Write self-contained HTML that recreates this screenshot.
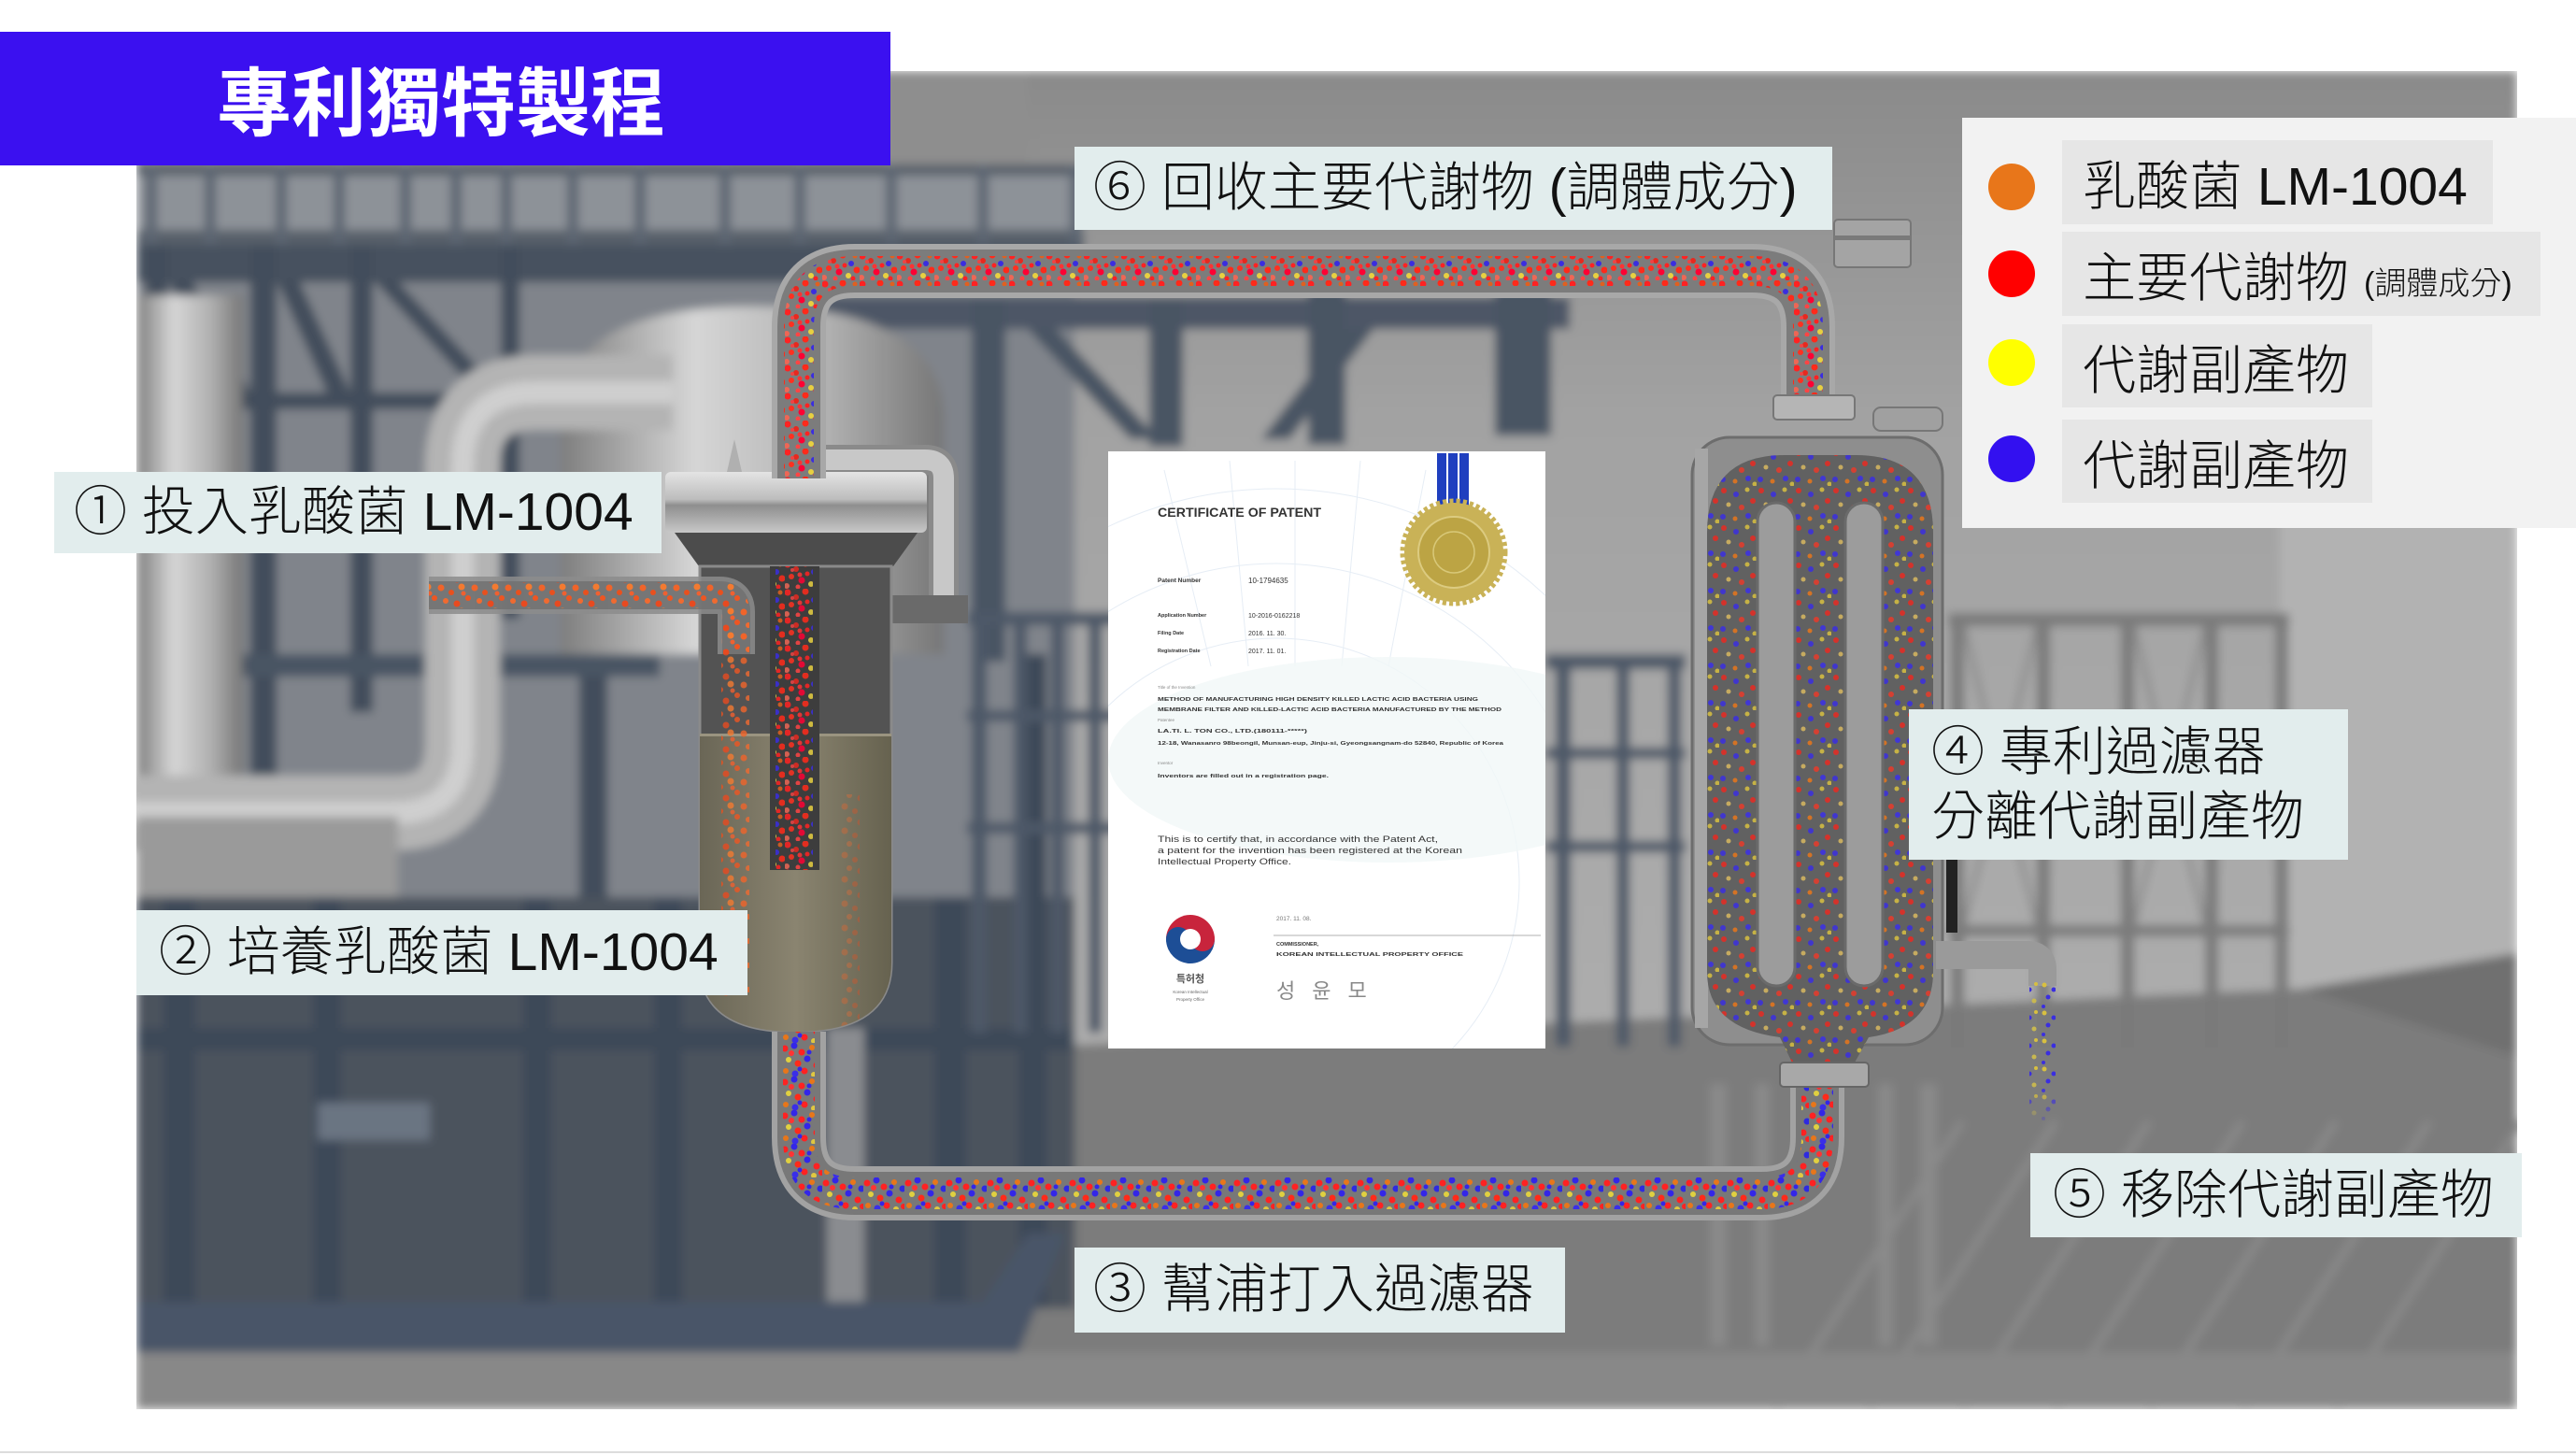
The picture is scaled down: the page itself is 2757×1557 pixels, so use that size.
<!DOCTYPE html>
<html><head><meta charset="utf-8">
<style>
html,body{margin:0;padding:0;background:#fff;}
body{width:2757px;height:1557px;position:relative;overflow:hidden;font-family:"Liberation Sans","Noto Sans CJK TC",sans-serif;}
svg.bg{position:absolute;left:0;top:0;}
.lbl{position:absolute;background:#e2eded;color:#111;font-size:57px;font-weight:300;line-height:1;box-sizing:border-box;white-space:nowrap;display:flex;align-items:center;font-family:"Liberation Sans","Noto Sans CJK TC",sans-serif;}
.title{position:absolute;left:0;top:34px;width:953px;height:143px;background:#3b10f0;color:#fff;font-family:"Noto Sans CJK TC","Liberation Sans",sans-serif;font-weight:700;font-size:80px;line-height:143px;padding-left:232px;box-sizing:border-box;white-space:nowrap;}
.legend{position:absolute;left:2100px;top:126px;width:657px;height:439px;background:#f2f2f2;}
.dot{position:absolute;width:50px;height:50px;border-radius:50%;left:28px;}
.item{position:absolute;left:107px;height:90px;background:#e6e6e6;box-sizing:border-box;padding-left:22px;display:flex;align-items:center;font-size:57px;font-weight:300;color:#111;white-space:nowrap;font-family:"Liberation Sans","Noto Sans CJK TC",sans-serif;}
</style></head>
<body>
<svg class="bg" width="2757" height="1557" viewBox="0 0 2757 1557">
<defs>
 <clipPath id="ph"><rect x="146" y="76" width="2548" height="1432"/></clipPath>
 <clipPath id="certc"><rect x="0" y="0" width="468" height="639"/></clipPath>
 <filter id="bl" x="-5%" y="-5%" width="110%" height="110%"><feGaussianBlur stdDeviation="5"/></filter>
 <linearGradient id="silverV" x1="0" x2="1" y1="0" y2="0">
  <stop offset="0" stop-color="#7e7e7e"/><stop offset="0.35" stop-color="#d6d6d6"/><stop offset="0.7" stop-color="#b0b0b0"/><stop offset="1" stop-color="#767676"/>
 </linearGradient>
 <linearGradient id="silverH" x1="0" x2="0" y1="0" y2="1">
  <stop offset="0" stop-color="#e4e4e4"/><stop offset="0.45" stop-color="#bdbdbd"/><stop offset="0.55" stop-color="#8e8e8e"/><stop offset="1" stop-color="#c8c8c8"/>
 </linearGradient>
 <linearGradient id="wall" x1="0" x2="0" y1="0" y2="1">
  <stop offset="0" stop-color="#8a8a8a"/><stop offset="0.35" stop-color="#a2a2a2"/><stop offset="1" stop-color="#adadad"/>
 </linearGradient>
 <linearGradient id="liq" x1="0" x2="1" y1="0" y2="0">
  <stop offset="0" stop-color="#6a6656"/><stop offset="0.5" stop-color="#8a8470"/><stop offset="1" stop-color="#66624f"/>
 </linearGradient>
 <linearGradient id="fade" x1="0" x2="0" y1="0" y2="1">
  <stop offset="0" stop-color="#fff"/><stop offset="0.7" stop-color="#fff"/><stop offset="1" stop-color="#000"/>
 </linearGradient>
 <mask id="spoutMask"><rect x="2160" y="1040" width="60" height="170" fill="url(#fade)"/></mask>
 <pattern id="pRed" width="40" height="30" patternUnits="userSpaceOnUse">
  <circle cx="3" cy="4" r="3.5" fill="#f22"/><circle cx="12" cy="9" r="3" fill="#e8281e"/>
  <circle cx="22" cy="3" r="3.5" fill="#ff2a1a"/><circle cx="31" cy="12" r="3" fill="#3a2de0"/>
  <circle cx="7" cy="17" r="3" fill="#ff3020"/><circle cx="18" cy="21" r="3.5" fill="#f03"/>
  <circle cx="28" cy="25" r="3" fill="#e8d040"/><circle cx="37" cy="19" r="3.5" fill="#ff2a1a"/>
  <circle cx="2" cy="27" r="3" fill="#e65"/><circle cx="14" cy="28" r="2.5" fill="#f44"/>
  <circle cx="35" cy="4" r="2.5" fill="#e06020"/><circle cx="24" cy="14" r="2.5" fill="#f22"/>
  <circle cx="16" cy="15" r="2.5" fill="#f33"/><circle cx="33" cy="28" r="2.5" fill="#f22"/>
  <circle cx="8" cy="10" r="2" fill="#e44"/>
 </pattern>
 <pattern id="pMix" width="44" height="36" patternUnits="userSpaceOnUse">
  <circle cx="4" cy="6" r="3.5" fill="#f22"/><circle cx="14" cy="3" r="3.5" fill="#3326e8"/>
  <circle cx="22" cy="10" r="3.5" fill="#f22"/><circle cx="33" cy="5" r="3" fill="#e8761a"/>
  <circle cx="42" cy="12" r="3.5" fill="#2e2ae0"/><circle cx="8" cy="18" r="3" fill="#e0d040"/>
  <circle cx="18" cy="22" r="3.5" fill="#ff2a1a"/><circle cx="28" cy="17" r="3.5" fill="#3326e8"/>
  <circle cx="38" cy="24" r="3.5" fill="#f22"/><circle cx="5" cy="30" r="3" fill="#e8761a"/>
  <circle cx="15" cy="33" r="3.5" fill="#3a2ee8"/><circle cx="25" cy="30" r="3.5" fill="#f22"/>
  <circle cx="35" cy="34" r="3" fill="#e0c840"/><circle cx="11" cy="11" r="3" fill="#f33"/>
  <circle cx="43" cy="31" r="3" fill="#f22"/><circle cx="30" cy="10" r="2.5" fill="#3326e8"/>
  <circle cx="20" cy="28" r="2.5" fill="#3326e8"/>
 </pattern>
 <pattern id="pOr" width="36" height="26" patternUnits="userSpaceOnUse">
  <circle cx="4" cy="5" r="3.5" fill="#f0642a"/><circle cx="15" cy="10" r="3" fill="#e8501e"/>
  <circle cx="26" cy="4" r="3.5" fill="#f47a30"/><circle cx="33" cy="16" r="3" fill="#ee5522"/>
  <circle cx="9" cy="19" r="3" fill="#f06a30"/><circle cx="21" cy="22" r="3.5" fill="#e84a20"/>
  <circle cx="28" cy="11" r="2.5" fill="#f06030"/>
 </pattern>
 <pattern id="pFil" width="40" height="40" patternUnits="userSpaceOnUse">
  <circle cx="5" cy="5" r="3" fill="#e82a22"/><circle cx="18" cy="9" r="3" fill="#3a2ee0"/>
  <circle cx="30" cy="4" r="2.5" fill="#d8c040"/><circle cx="36" cy="16" r="3" fill="#e82a22"/>
  <circle cx="10" cy="20" r="2.5" fill="#d8b860"/><circle cx="24" cy="23" r="3" fill="#e83a2a"/>
  <circle cx="4" cy="33" r="3" fill="#3a2ee0"/><circle cx="17" cy="35" r="2.5" fill="#e8761a"/>
  <circle cx="31" cy="32" r="3" fill="#3a30e8"/><circle cx="38" cy="38" r="2.5" fill="#d8c040"/>
 </pattern>
 <pattern id="pSp" width="26" height="30" patternUnits="userSpaceOnUse">
  <circle cx="4" cy="4" r="2.5" fill="#d8c040"/><circle cx="14" cy="9" r="2.5" fill="#3a2ee0"/>
  <circle cx="21" cy="3" r="2" fill="#d8c040"/><circle cx="8" cy="17" r="2.5" fill="#3a2ee0"/>
  <circle cx="19" cy="21" r="2.5" fill="#c8b850"/><circle cx="3" cy="27" r="2" fill="#3a2ee0"/>
 </pattern>
</defs>

<rect x="0" y="0" width="2757" height="1557" fill="#fff"/>

<g clip-path="url(#ph)">
 <g filter="url(#bl)">
  <rect x="146" y="76" width="2548" height="1432" fill="#8e8e8e"/>
  <rect x="1100" y="76" width="1594" height="1060" fill="url(#wall)"/>
  <rect x="2440" y="400" width="254" height="660" fill="#b2b2b2"/>
  <polygon points="2465,1058 2694,1020 2694,1200" fill="#6f6f6f"/>
  <!-- left back -->
  <rect x="146" y="260" width="1004" height="1150" fill="#80848b"/>
  <!-- floor -->
  <polygon points="1000,1125 2465,1058 2694,1130 2694,1508 1000,1508" fill="#7b7b7b"/>
  <g stroke="#8a8a8a" stroke-width="8">
   <line x1="1900" y1="1508" x2="2100" y2="1200"/><line x1="2000" y1="1508" x2="2200" y2="1200"/>
   <line x1="2100" y1="1508" x2="2300" y2="1200"/><line x1="2200" y1="1508" x2="2400" y2="1200"/>
   <line x1="2300" y1="1508" x2="2500" y2="1200"/><line x1="2400" y1="1508" x2="2600" y2="1200"/>
   <line x1="2500" y1="1508" x2="2700" y2="1200"/>
  </g>
  <rect x="146" y="1447" width="2548" height="61" fill="#888"/>
  <!-- top-left railing -->
  <rect x="146" y="176" width="1014" height="86" fill="#8d9298"/>
  <rect x="146" y="176" width="1014" height="12" fill="#58606b"/>
  <rect x="146" y="246" width="1014" height="16" fill="#58606b"/>
  <g fill="#5d6672">
   <rect x="156" y="176" width="12" height="86"/><rect x="219" y="176" width="12" height="86"/>
   <rect x="295" y="176" width="12" height="86"/><rect x="357" y="176" width="12" height="86"/>
   <rect x="428" y="176" width="12" height="86"/><rect x="482" y="176" width="12" height="86"/>
   <rect x="536" y="176" width="12" height="86"/><rect x="607" y="176" width="12" height="86"/>
   <rect x="679" y="176" width="12" height="86"/><rect x="770" y="176" width="12" height="86"/>
   <rect x="850" y="176" width="12" height="86"/><rect x="948" y="176" width="12" height="86"/>
   <rect x="1046" y="176" width="12" height="86"/><rect x="1145" y="176" width="12" height="86"/>
  </g>
  <rect x="146" y="262" width="1014" height="40" fill="#47515f"/>
  <!-- upper-left posts & braces -->
  <g fill="#434d5c">
   <rect x="156" y="262" width="24" height="640"/><rect x="268" y="262" width="28" height="640"/>
   <rect x="375" y="262" width="24" height="500"/><rect x="536" y="262" width="20" height="400"/>
   <polygon points="180,300 205,300 268,420 243,420"/><polygon points="296,300 320,300 375,420 350,420"/>
   <polygon points="400,300 425,300 536,420 510,420"/>
   <rect x="146" y="420" width="420" height="18"/>
  </g>
  <!-- middle navy structure -->
  <rect x="880" y="318" width="800" height="34" fill="#4d5766"/>
  <rect x="1040" y="318" width="36" height="390" fill="#4a5464"/>
  <rect x="1230" y="318" width="36" height="160" fill="#4a5464"/>
  <rect x="1400" y="306" width="40" height="170" fill="#4a5464"/>
  <rect x="1600" y="306" width="60" height="160" fill="#4a5464"/>
  <polygon points="1100,352 1130,352 1240,470 1210,470" fill="#4a5464"/>
  <polygon points="1440,352 1470,352 1380,470 1350,470" fill="#4a5464"/>
  <!-- left frames -->
  <rect x="620" y="650" width="30" height="760" fill="#434d5c"/>
  <rect x="146" y="700" width="560" height="24" fill="#4a5464"/>
  <!-- silver tanks -->
  <rect x="146" y="316" width="114" height="590" fill="url(#silverV)"/>
  <path d="M600 700 L600 450 Q600 328 805 328 Q1010 328 1010 450 L1010 700 Z" fill="url(#silverV)"/>
  <path d="M140 870 L420 870 Q495 870 495 795 L495 500 Q495 420 575 420 L720 420" fill="none" stroke="#b4b4b4" stroke-width="80"/>
  <path d="M140 870 L420 870 Q495 870 495 795 L495 500 Q495 420 575 420 L720 420" fill="none" stroke="#cfcfcf" stroke-width="24"/>
  <rect x="146" y="874" width="280" height="86" fill="#9a9a9a"/>
  <!-- lower left dark -->
  <rect x="146" y="960" width="1004" height="440" fill="#4c525d"/>
  <g fill="#3e4858">
   <rect x="175" y="960" width="34" height="440"/><rect x="335" y="960" width="30" height="440"/>
   <rect x="560" y="960" width="30" height="440"/><rect x="700" y="960" width="30" height="440"/>
   <rect x="1000" y="960" width="34" height="440"/><rect x="1090" y="700" width="30" height="700"/>
   <rect x="146" y="1100" width="1004" height="24" />
  </g>
  <rect x="340" y="1180" width="120" height="40" fill="#6a7482"/>
  <rect x="885" y="1100" width="40" height="300" fill="#8a8c90"/>
  <rect x="146" y="1393" width="906" height="54" fill="#4a5568"/>
  <polygon points="1052,1393 1100,1320 1140,1320 1090,1447 1052,1447" fill="#4a5568"/>
  <!-- middle railing behind cert -->
  <g fill="#4e5868">
   <rect x="1040" y="655" width="16" height="450"/><rect x="1085" y="655" width="14" height="450"/>
   <rect x="1125" y="655" width="14" height="450"/><rect x="1165" y="655" width="14" height="450"/>
   <rect x="1035" y="655" width="160" height="14"/><rect x="1035" y="760" width="160" height="12"/>
   <rect x="1035" y="880" width="160" height="12"/>
   <rect x="1665" y="700" width="16" height="420"/><rect x="1730" y="700" width="14" height="420"/>
   <rect x="1785" y="700" width="14" height="420"/><rect x="1654" y="700" width="150" height="16"/>
   <rect x="1654" y="800" width="150" height="12"/><rect x="1654" y="900" width="150" height="12"/>
  </g>
  <!-- right scaffolding -->
  <g fill="#7a7a7a">
   <rect x="2088" y="656" width="14" height="465"/><rect x="2180" y="656" width="14" height="465"/>
   <rect x="2270" y="656" width="14" height="465"/><rect x="2360" y="656" width="14" height="465"/>
   <rect x="2435" y="656" width="14" height="465"/>
   <rect x="2085" y="656" width="365" height="14"/><rect x="2085" y="990" width="365" height="12"/>
  </g>
  <g stroke="#8a8a8a" stroke-width="5">
   <line x1="2102" y1="670" x2="2180" y2="990"/><line x1="2180" y1="670" x2="2102" y2="990"/>
   <line x1="2284" y1="670" x2="2360" y2="990"/><line x1="2360" y1="670" x2="2284" y2="990"/>
  </g>
  <!-- filter legs -->
  <g fill="#8a8a8a">
   <rect x="1830" y="1160" width="18" height="280"/><rect x="1878" y="1160" width="16" height="280"/>
   <rect x="2010" y="1160" width="16" height="280"/><rect x="2055" y="1160" width="18" height="280"/>
  </g>
 </g>

 <!-- ===== Culture tank ===== -->
 <path d="M860 492 L990 492 Q1010 492 1010 512 L1010 645" fill="none" stroke="#8a8a8a" stroke-width="32"/>
 <path d="M860 492 L990 492 Q1010 492 1010 512 L1010 645" fill="none" stroke="#c8c8c8" stroke-width="22"/>
 <rect x="940" y="637" width="96" height="30" fill="#6a6a6a"/>
 <polygon points="778,505 786,470 794,505" fill="#b0b0b0"/>
 <rect x="712" y="505" width="280" height="65" rx="6" fill="url(#silverH)"/>
 <polygon points="722,570 982,570 956,606 748,606" fill="#4c4c4c"/>
 <path d="M749 606 L954 606 L954 1030 Q954 1104 851 1104 Q749 1104 749 1030 Z" fill="#535353" stroke="#8a8a8a" stroke-width="3"/>
 <clipPath id="bodyc"><path d="M749 606 L954 606 L954 1030 Q954 1104 851 1104 Q749 1104 749 1030 Z"/></clipPath>
 <g clip-path="url(#bodyc)">
  <rect x="749" y="785" width="205" height="330" fill="url(#liq)"/>
  <rect x="749" y="785" width="205" height="3" fill="#9a9480"/>
  <rect x="824" y="606" width="53" height="325" fill="#3d3d3d"/>
  <rect x="830" y="606" width="40" height="325" fill="url(#pRed)" opacity="0.85"/>
  <rect x="772" y="656" width="30" height="410" fill="url(#pOr)" opacity="0.8"/>
  <rect x="900" y="850" width="20" height="250" fill="url(#pOr)" opacity="0.35"/>
 </g>

 <!-- feed pipe -->
 <path d="M459 637 L770 637 Q788 637 788 655 L788 700" fill="none" stroke="#8c8c8c" stroke-width="40" opacity="0.85"/>
 <path d="M459 637 L770 637 Q788 637 788 655 L788 700" fill="none" stroke="#6f6f6f" stroke-width="30" opacity="0.8"/>
 <path d="M459 637 L770 637 Q788 637 788 655 L788 700" fill="none" stroke="url(#pOr)" stroke-width="28"/>

 <!-- ===== Loop pipes ===== -->
 <g fill="none">
  <path d="M855 512 L855 350 Q855 290 915 290 L1875 290 Q1935 290 1935 350 L1935 430" stroke="#a8a8a8" stroke-width="58"/>
  <path d="M855 512 L855 350 Q855 290 915 290 L1875 290 Q1935 290 1935 350 L1935 430" stroke="#7c7c7c" stroke-width="46"/>
  <path d="M855 512 L855 350 Q855 290 915 290 L1875 290 Q1935 290 1935 350 L1935 430" stroke="url(#pRed)" stroke-width="32"/>
  <path d="M855 1104 L855 1217 Q855 1277 915 1277 L1885 1277 Q1945 1277 1945 1217 L1945 1160" stroke="#a2a2a2" stroke-width="58"/>
  <path d="M855 1104 L855 1217 Q855 1277 915 1277 L1885 1277 Q1945 1277 1945 1217 L1945 1160" stroke="#787878" stroke-width="46"/>
  <path d="M855 1104 L855 1217 Q855 1277 915 1277 L1885 1277 Q1945 1277 1945 1217 L1945 1160" stroke="url(#pMix)" stroke-width="34"/>
 </g>
 <rect x="1963" y="235" width="82" height="51" rx="4" fill="#a4a4a4" stroke="#777" stroke-width="2"/>
 <rect x="1963" y="252" width="82" height="5" fill="#7a7a7a"/>

 <!-- ===== Filter ===== -->
 <rect x="1811" y="468" width="268" height="650" rx="40" fill="#8e8e8e" stroke="#6d6d6d" stroke-width="3"/>
 <rect x="1814" y="480" width="14" height="620" fill="#a6a6a6"/>
 <path d="M1827 570 Q1827 487 1910 487 L1986 487 Q2069 487 2069 570 L2069 1040 Q2069 1100 2000 1110 L1985 1137 L1918 1137 L1905 1110 Q1827 1100 1827 1040 Z" fill="#616161"/>
 <path d="M1827 570 Q1827 487 1910 487 L1986 487 Q2069 487 2069 570 L2069 1040 Q2069 1100 2000 1110 L1985 1137 L1918 1137 L1905 1110 Q1827 1100 1827 1040 Z" fill="url(#pFil)" opacity="0.85"/>
 <rect x="1881" y="538" width="40" height="517" rx="20" fill="#9c9c9c" stroke="#6a6a6a" stroke-width="3"/>
 <rect x="1975" y="538" width="40" height="517" rx="20" fill="#9c9c9c" stroke="#6a6a6a" stroke-width="3"/>
 <rect x="1898" y="423" width="87" height="26" rx="4" fill="#b5b5b5" stroke="#777" stroke-width="2"/>
 <rect x="2005" y="436" width="74" height="25" rx="8" fill="#a0a0a0" stroke="#777" stroke-width="2"/>
 <rect x="1905" y="1137" width="95" height="26" rx="4" fill="#a8a8a8" stroke="#666" stroke-width="2"/>
 <rect x="2083" y="918" width="12" height="80" fill="#222"/>
 <path d="M2072 1022 L2170 1022 Q2186 1022 2186 1038 L2186 1055" fill="none" stroke="#9a9a9a" stroke-width="30"/>
 <rect x="2172" y="1050" width="28" height="150" fill="url(#pSp)" mask="url(#spoutMask)"/>
</g>

<!-- ===== Certificate ===== -->
<g transform="translate(1186,483)">
 <rect x="0" y="0" width="468" height="639" fill="#ffffff"/>
 <g clip-path="url(#certc)">
  <g fill="none" stroke="#e6edf5" stroke-width="1">
   <circle cx="180" cy="460" r="420"/><circle cx="180" cy="460" r="340"/><circle cx="180" cy="460" r="260"/>
   <line x1="60" y1="20" x2="110" y2="230"/><line x1="130" y1="10" x2="150" y2="230"/><line x1="200" y1="10" x2="200" y2="230"/>
   <line x1="270" y1="10" x2="250" y2="230"/><line x1="340" y1="20" x2="300" y2="230"/>
  </g>
  <ellipse cx="300" cy="330" rx="300" ry="110" fill="#f1f8f8" opacity="0.8"/>
 </g>
 <rect x="352" y="2" width="10" height="66" fill="#1f3fbf"/>
 <rect x="364" y="2" width="10" height="66" fill="#1f3fbf"/>
 <rect x="376" y="2" width="10" height="66" fill="#1f3fbf"/>
 <circle cx="370" cy="108" r="53" fill="#c9b257" stroke="#c9b257" stroke-width="9" stroke-dasharray="4 3"/>
 <circle cx="370" cy="108" r="38" fill="#bca444" stroke="#dccb80" stroke-width="2"/>
 <circle cx="370" cy="108" r="22" fill="none" stroke="#d8c878" stroke-width="1.5"/>
 <g font-family="Liberation Sans, sans-serif" fill="#333">
  <text x="53" y="70" font-size="13.5" font-weight="bold" textLength="175" lengthAdjust="spacingAndGlyphs">CERTIFICATE OF PATENT</text>
  <text x="53" y="140" font-size="6.5" font-weight="bold">Patent Number</text>
  <text x="150" y="141" font-size="8">10-1794635</text>
  <text x="53" y="177" font-size="5.5" font-weight="bold">Application Number</text>
  <text x="150" y="178" font-size="7">10-2016-0162218</text>
  <text x="53" y="196" font-size="5.5" font-weight="bold">Filing Date</text>
  <text x="150" y="197" font-size="7">2016. 11. 30.</text>
  <text x="53" y="215" font-size="5.5" font-weight="bold">Registration Date</text>
  <text x="150" y="216" font-size="7">2017. 11. 01.</text>
  <text x="53" y="254" font-size="4.5" fill="#888">Title of the Invention</text>
  <text x="53" y="267" font-size="5.5" font-weight="bold" textLength="343" lengthAdjust="spacingAndGlyphs">METHOD OF MANUFACTURING HIGH DENSITY KILLED LACTIC ACID BACTERIA USING</text>
  <text x="53" y="278" font-size="5.5" font-weight="bold" textLength="368" lengthAdjust="spacingAndGlyphs">MEMBRANE FILTER AND KILLED-LACTIC ACID BACTERIA MANUFACTURED BY THE METHOD</text>
  <text x="53" y="289" font-size="4.5" fill="#888">Patentee</text>
  <text x="53" y="301" font-size="5.5" font-weight="bold" textLength="160" lengthAdjust="spacingAndGlyphs">LA.TI. L. TON CO., LTD.(180111-*****)</text>
  <text x="53" y="314" font-size="5.5" font-weight="bold" textLength="370" lengthAdjust="spacingAndGlyphs">12-18, Wanasanro 98beongil, Munsan-eup, Jinju-si, Gyeongsangnam-do 52840, Republic of Korea</text>
  <text x="53" y="335" font-size="4.5" fill="#888">Inventor</text>
  <text x="53" y="349" font-size="5.5" font-weight="bold" textLength="183" lengthAdjust="spacingAndGlyphs">Inventors are filled out in a registration page.</text>
  <text x="53" y="418" font-size="9.5" textLength="300" lengthAdjust="spacingAndGlyphs">This is to certify that, in accordance with the Patent Act,</text>
  <text x="53" y="430" font-size="9.5" textLength="326" lengthAdjust="spacingAndGlyphs">a patent for the invention has been registered at the Korean</text>
  <text x="53" y="442" font-size="9.5" textLength="143" lengthAdjust="spacingAndGlyphs">Intellectual Property Office.</text>
  <text x="180" y="502" font-size="6.5" fill="#777">2017. 11. 08.</text>
  <text x="180" y="529" font-size="5.5" font-weight="bold">COMMISSIONER,</text>
  <text x="180" y="540" font-size="5.5" font-weight="bold" textLength="200" lengthAdjust="spacingAndGlyphs">KOREAN INTELLECTUAL PROPERTY OFFICE</text>
  <text x="88" y="580" font-size="4.5" text-anchor="middle" fill="#666">Korean Intellectual</text>
  <text x="88" y="588" font-size="4.5" text-anchor="middle" fill="#666">Property Office</text>
 </g>
 <line x1="177" y1="518" x2="463" y2="518" stroke="#999" stroke-width="0.8"/>
 <path d="M62 522 A26 26 0 0 1 114 522 Z" fill="#c8243c"/>
 <path d="M62 522 A26 26 0 0 0 114 522 Z" fill="#1d4e96"/>
 <circle cx="101" cy="522" r="13" fill="#c8243c"/>
 <circle cx="75" cy="522" r="13" fill="#1d4e96"/>
 <circle cx="88" cy="522" r="11" fill="#fff"/>
 <text x="88" y="568" font-size="11" font-weight="bold" text-anchor="middle" fill="#555" font-family="Liberation Sans, Noto Sans CJK KR, sans-serif">특허청</text>
 <text x="180" y="585" font-size="22" fill="#888" letter-spacing="18" font-family="Liberation Sans, Noto Sans CJK KR, sans-serif">성윤모</text>
</g>

<rect x="0" y="1553" width="2757" height="2" fill="#dcdcdc"/>
</svg>

<div class="title">專利獨特製程</div>

<div class="lbl" style="left:58px;top:505px;width:650px;height:87px;padding-left:21px;">① 投入乳酸菌 LM-1004</div>
<div class="lbl" style="left:1150px;top:157px;width:811px;height:89px;padding-left:20px;">⑥ 回收主要代謝物 (調體成分)</div>
<div class="lbl" style="left:146px;top:974px;width:654px;height:91px;padding-left:24px;">② 培養乳酸菌 LM-1004</div>
<div class="lbl" style="left:1150px;top:1335px;width:525px;height:91px;padding-left:20px;">③ 幫浦打入過濾器</div>
<div class="lbl" style="left:2043px;top:759px;width:470px;height:161px;padding-left:24px;line-height:69px;"><div>④ 專利過濾器<br>分離代謝副產物</div></div>
<div class="lbl" style="left:2173px;top:1234px;width:526px;height:90px;padding-left:24px;">⑤ 移除代謝副產物</div>

<div class="legend">
 <div class="dot" style="top:49px;background:#e8761a;"></div>
 <div class="dot" style="top:142px;background:#ff0000;"></div>
 <div class="dot" style="top:237px;background:#ffff00;"></div>
 <div class="dot" style="top:340px;background:#3310f0;"></div>
 <div class="item" style="top:24px;width:461px;">乳酸菌 LM-1004</div>
 <div class="item" style="top:122px;width:512px;">主要代謝物<span style="font-size:34px;margin-left:16px;margin-top:14px;">(調體成分)</span></div>
 <div class="item" style="top:221px;width:332px;height:89px;">代謝副產物</div>
 <div class="item" style="top:323px;width:332px;height:89px;">代謝副產物</div>
</div>
</body></html>
